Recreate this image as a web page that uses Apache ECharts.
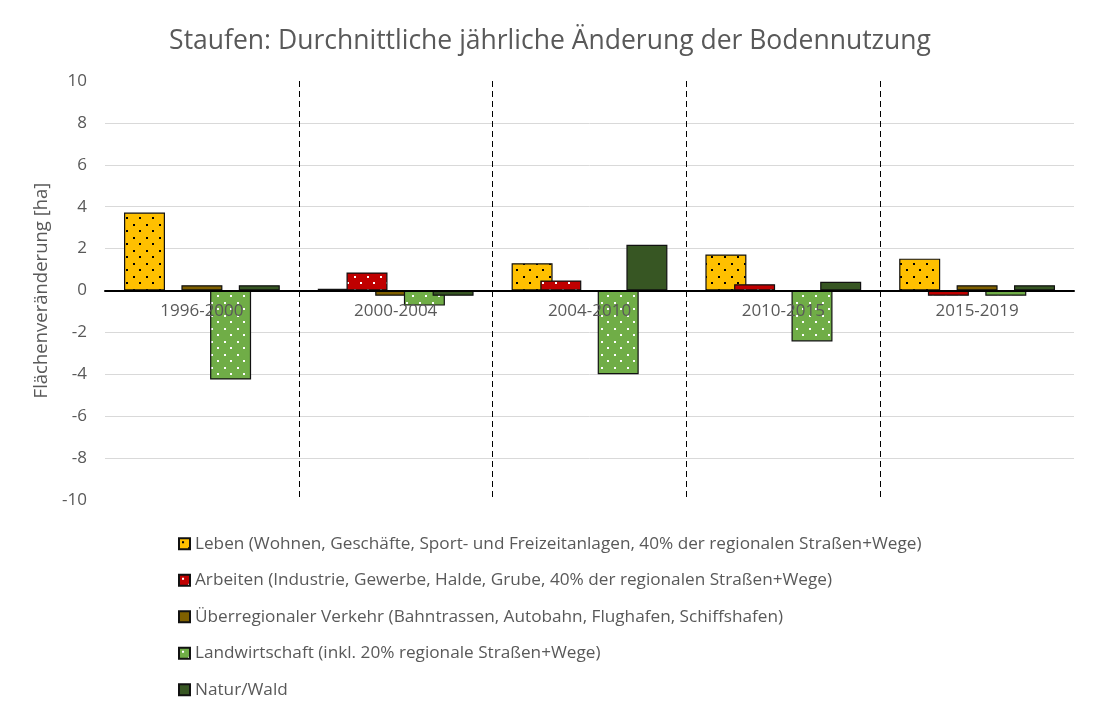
<!DOCTYPE html>
<html><head><meta charset="utf-8">
<script src="https://cdn.jsdelivr.net/npm/echarts@6/dist/echarts.min.js"></script>
<style>html,body{margin:0;padding:0;background:#fff}#c{width:1100px;height:720px}</style>
</head><body><div id="c"></div>
<script>
const categories = ['1996-2000', '2000-2004', '2004-2010', '2010-2015', '2015-2019'];
const seriesNames = [
  'Leben (Wohnen, Geschäfte, Sport- und Freizeitanlagen, 40% der regionalen Straßen+Wege)',
  'Arbeiten (Industrie, Gewerbe, Halde, Grube, 40% der regionalen Straßen+Wege)',
  'Überregionaler Verkehr (Bahntrassen, Autobahn, Flughafen, Schiffshafen)',
  'Landwirtschaft (inkl. 20% regionale Straßen+Wege)',
  'Natur/Wald'
];
const leben = [3.72, 0.08, 1.3, 1.72, 1.52];
const arbeiten = [-0.03, 0.86, 0.48, 0.3, -0.25];
const verkehr = [0.25, -0.25, 0, 0, 0.25];
const landwirtschaft = [-4.25, -0.72, -4.0, -2.43, -0.25];
const natur = [0.25, -0.25, 2.18, 0.42, 0.25];
const yTicks = [-10, -8, -6, -4, -2, 0, 2, 4, 6, 8, 10];

function pattern(bg, dot) {
  if (!dot) return bg;
  const c = document.createElement('canvas');
  c.width = 13; c.height = 13;
  const g = c.getContext('2d');
  g.fillStyle = bg; g.fillRect(0, 0, 13, 13);
  g.fillStyle = dot;
  g.fillRect(3, 3, 2, 2);
  g.fillRect(9, 9, 2, 2);
  return { image: c, repeat: 'repeat' };
}
const fills = [
  pattern('#FFC000', '#000000'),
  pattern('#C00000', '#FFFFFF'),
  pattern('#7F6000', null),
  pattern('#70AD47', '#FFFFFF'),
  pattern('#375623', null)
];
const values = [leben, arbeiten, verkehr, landwirtschaft, natur];
const font = 'Open Sans';
const chart = echarts.init(document.getElementById('c'), null, { renderer: 'canvas' });
const option = {
  animation: false,
  backgroundColor: '#fff',
  title: {
    text: 'Staufen: Durchnittliche jährliche Änderung der Bodennutzung',
    left: 'center', top: 23,
    textStyle: { fontFamily: font, fontSize: 26.5, fontWeight: 'normal', color: '#595959' }
  },
  legend: {
    orient: 'vertical', left: 173, top: 527,
    itemWidth: 11, itemHeight: 11, itemGap: 13,
    icon: 'rect',
    textStyle: { fontFamily: font, fontSize: 17.2, color: '#595959', lineHeight: 23.5 },
    data: seriesNames
  },
  grid: { left: 105, right: 26, top: 81, bottom: 220 },
  xAxis: {
    type: 'category', data: categories, z: 10,
    axisLine: { onZero: false, lineStyle: { color: '#000', width: 2 } },
    axisTick: { show: false },
    axisLabel: { fontFamily: font, fontSize: 17, color: '#595959', margin: 12 },
    splitLine: { show: true, showMinLine: false, showMaxLine: false, lineStyle: { color: '#000', type: [6, 4], width: 1 } }
  },
  yAxis: {
    type: 'value', min: yTicks[0], max: yTicks[yTicks.length - 1], interval: 2,
    name: 'Flächenveränderung [ha]', nameLocation: 'middle', nameGap: 52,
    nameTextStyle: { fontFamily: font, fontSize: 18.5, color: '#595959' },
    axisLine: { show: false }, axisTick: { show: false },
    axisLabel: { fontFamily: font, fontSize: 17, color: '#595959', margin: 18 },
    splitLine: { show: true, showMinLine: false, showMaxLine: false, lineStyle: { color: '#D9D9D9', width: 1 } }
  },
  series: seriesNames.map((n, i) => ({
    name: n, type: 'bar', data: values[i],
    barWidth: 41, barGap: '-30%',
    itemStyle: { color: fills[i], borderColor: '#111', borderWidth: 1.2 }
  }))
};
chart.setOption(option);
// place the category axis on the zero line using the library's own scale
const zeroY = chart.convertToPixel({ yAxisIndex: 0 }, 0);
const bottomY = chart.convertToPixel({ yAxisIndex: 0 }, yTicks[0]);
chart.setOption({ xAxis: { offset: zeroY - bottomY } });
</script></body></html>
